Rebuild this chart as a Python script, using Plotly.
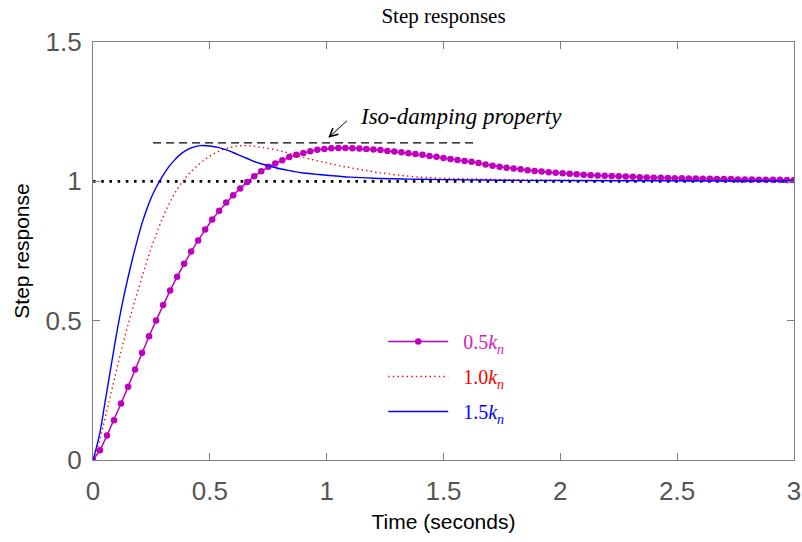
import plotly.graph_objects as go

# ---------------- data ----------------
t_step = 0.03
y_05kn = [0.000, 0.035, 0.088, 0.143, 0.203, 0.263, 0.325, 0.385, 0.444, 0.501,
          0.556, 0.608, 0.658, 0.704, 0.748, 0.788, 0.827, 0.863, 0.894, 0.924,
          0.950, 0.974, 0.998, 1.018, 1.036, 1.052, 1.064, 1.076, 1.087, 1.095,
          1.102, 1.108, 1.113, 1.116, 1.119, 1.120, 1.120, 1.119, 1.118, 1.116,
          1.114, 1.112, 1.109, 1.107, 1.104, 1.101, 1.098, 1.095, 1.091, 1.088,
          1.084, 1.080, 1.077, 1.073, 1.070, 1.066, 1.060, 1.056, 1.052, 1.049,
          1.046, 1.043, 1.040, 1.037, 1.035, 1.033, 1.031, 1.029, 1.027, 1.025,
          1.024, 1.022, 1.021, 1.020, 1.019, 1.018, 1.017, 1.016, 1.015, 1.014,
          1.013, 1.013, 1.012, 1.011, 1.011, 1.010, 1.010, 1.009, 1.009, 1.008,
          1.008, 1.008, 1.007, 1.007, 1.007, 1.006, 1.006, 1.006, 1.006, 1.005,
          1.005]
t_05kn = [round(i * t_step, 2) for i in range(len(y_05kn))]

t_10kn = [0, 0.02, 0.04, 0.06, 0.08, 0.10, 0.12, 0.14, 0.16, 0.18, 0.20, 0.22,
          0.24, 0.26, 0.28, 0.30, 0.32, 0.34, 0.36, 0.38, 0.40, 0.43, 0.46, 0.49,
          0.52, 0.56, 0.60, 0.64, 0.68, 0.72, 0.77, 0.82, 0.86, 0.90, 0.95, 1.00,
          1.05, 1.10, 1.16, 1.22, 1.30, 1.40, 1.50, 1.60, 1.80, 2.00, 2.50, 3.00]
y_10kn = [0, 0.045, 0.11, 0.18, 0.25, 0.32, 0.39, 0.455, 0.515, 0.573, 0.63, 0.685,
          0.737, 0.786, 0.831, 0.872, 0.909, 0.942, 0.971, 0.996, 1.017, 1.043, 1.066, 1.085,
          1.100, 1.115, 1.124, 1.128, 1.127, 1.122, 1.115, 1.105, 1.096, 1.086, 1.076, 1.066,
          1.057, 1.049, 1.040, 1.032, 1.023, 1.015, 1.011, 1.009, 1.006, 1.004, 1.002, 1.001]

t_15kn = [0, 0.01, 0.03, 0.05, 0.07, 0.09, 0.11, 0.13, 0.15, 0.17, 0.19, 0.21,
          0.23, 0.25, 0.27, 0.29, 0.31, 0.33, 0.35, 0.37, 0.40, 0.43, 0.46, 0.50,
          0.54, 0.58, 0.62, 0.66, 0.70, 0.75, 0.80, 0.85, 0.90, 0.95, 1.00, 1.10,
          1.20, 1.35, 1.50, 1.75, 2.00, 2.50, 3.00]
y_15kn = [0, 0.03, 0.10, 0.20, 0.30, 0.40, 0.495, 0.58, 0.655, 0.725, 0.79, 0.85,
          0.90, 0.943, 0.978, 1.008, 1.035, 1.058, 1.077, 1.094, 1.112, 1.123, 1.128, 1.127,
          1.121, 1.110, 1.096, 1.082, 1.068, 1.056, 1.045, 1.037, 1.030, 1.026, 1.022, 1.015,
          1.011, 1.008, 1.006, 1.004, 1.003, 1.002, 1.001]

x_ticks = [0, 0.5, 1, 1.5, 2, 2.5, 3]
x_tick_labels = ["0", "0.5", "1", "1.5", "2", "2.5", "3"]
y_ticks = [0, 0.5, 1, 1.5]
y_tick_labels = ["0", "0.5", "1", "1.5"]

ref_level = 1.0            # steady-state reference
ref_t = [0, 3]
iso_level = 1.138          # iso-damping dashed line
iso_t = [0.257, 1.643]
arrow_head = (1.007, 1.156)
arrow_tail = (1.093, 1.222)
label_pos = (1.136, 1.234)

MAG = "#BF00BF"
RED = "#FF0000"
BLUE = "#0000FF"
PAD = "&nbsp;&nbsp;"

fig = go.Figure()

fig.add_trace(go.Scatter(
    x=ref_t, y=[ref_level] * len(ref_t), mode="lines",
    line=dict(color="black", width=2.6, dash="2.6px,5.6px"),
    showlegend=False, hoverinfo="skip"))
fig.add_trace(go.Scatter(
    x=iso_t, y=[iso_level] * len(iso_t), mode="lines",
    line=dict(color="black", width=1.2, dash="8px,5px"),
    showlegend=False, hoverinfo="skip"))

fig.add_trace(go.Scatter(
    x=t_05kn, y=y_05kn, mode="lines+markers",
    line=dict(color=MAG, width=1.5),
    marker=dict(color=MAG, size=6.5, symbol="circle"),
    name=f"{PAD}<span style='color:#D81BB0'>0.5<i>k<sub>n</sub></i></span>",
    legendgroup="a"))
fig.add_trace(go.Scatter(
    x=t_10kn, y=y_10kn, mode="lines", line_shape="spline",
    line=dict(color=RED, width=1.4, dash="1.4px,3.2px"),
    name=f"{PAD}<span style='color:{RED}'>1.0<i>k<sub>n</sub></i></span>",
    legendgroup="b"))
fig.add_trace(go.Scatter(
    x=t_15kn, y=y_15kn, mode="lines", line_shape="spline",
    line=dict(color=BLUE, width=1.4),
    name=f"{PAD}<span style='color:{BLUE}'>1.5<i>k<sub>n</sub></i></span>",
    legendgroup="c"))

fig.add_annotation(
    x=arrow_head[0], y=arrow_head[1], ax=arrow_tail[0], ay=arrow_tail[1],
    xref="x", yref="y", axref="x", ayref="y", text="",
    showarrow=True, arrowhead=5, arrowsize=1.6, arrowwidth=1, arrowcolor="black")
fig.add_annotation(
    x=label_pos[0], y=label_pos[1], xref="x", yref="y",
    text="<i>Iso-damping property</i>", showarrow=False, xanchor="left", yanchor="middle",
    font=dict(family="Liberation Serif", size=23, color="black"))

axis_common = dict(
    showline=True, linecolor="#7f7f7f", linewidth=1.3, mirror="ticks",
    ticks="inside", ticklen=7, tickwidth=1.2, tickcolor="#7f7f7f",
    showgrid=False, zeroline=False, automargin=False,
    tickfont=dict(family="Liberation Sans", size=26, color="#555555"),
)

fig.update_xaxes(range=[0, 3], tickvals=x_ticks, ticktext=x_tick_labels,
                 ticklabelstandoff=8,
                 title=dict(text="Time (seconds)", standoff=8,
                            font=dict(family="Liberation Sans", size=21, color="black")),
                 **axis_common)
fig.update_yaxes(range=[0, 1.5], tickvals=y_ticks, ticktext=y_tick_labels,
                 ticklabelstandoff=5,
                 title=dict(text="Step response", standoff=10,
                            font=dict(family="Liberation Sans", size=21, color="black")),
                 **axis_common)

fig.update_layout(
    width=802, height=542,
    margin=dict(l=93, r=8, t=42, b=82),
    paper_bgcolor="white", plot_bgcolor="white",
    title=dict(text="Step responses", x=0.553, xanchor="center", y=0.972, yanchor="middle",
               font=dict(family="Liberation Serif", size=21, color="black")),
    showlegend=True,
    legend=dict(x=0.414, y=0.33, xanchor="left", yanchor="top",
                bgcolor="rgba(0,0,0,0)", borderwidth=0,
                itemwidth=60, tracegroupgap=6,
                font=dict(family="Liberation Serif", size=20)),
)

fig.write_html("out.html")
